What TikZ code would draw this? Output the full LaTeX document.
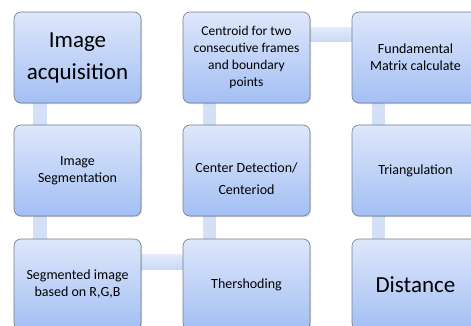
\documentclass[tikz,border=0pt]{standalone}
\usepackage{fontspec}
\setmainfont{Carlito}
\usepackage{tikz}
\usetikzlibrary{shadows}
\pgfdeclarelayer{nodelayer}
\pgfdeclarelayer{edgelayer}
\pgfsetlayers{edgelayer,nodelayer,main}
\definecolor{boxtop}{HTML}{DEE7FB}
\definecolor{boxbot}{HTML}{A3BFF3}
\definecolor{boxline}{HTML}{747D8C}
\definecolor{bartop}{HTML}{E3EBFB}
\definecolor{barbot}{HTML}{C9D8F6}
\tikzset{stage/.style={draw=boxline, line width=0.6pt, rounded corners=7pt,
top color=boxtop, bottom color=boxbot, minimum width=127pt, minimum height=91pt,
inner sep=0pt, align=center, text=black, font=\fontsize{14}{17}\selectfont,
drop shadow={shadow xshift=1pt, shadow yshift=-1.2pt, opacity=0.3}}}
\tikzset{bigstage/.style={stage, font=\fontsize{23}{32}\selectfont}}
\tikzset{vbar/.style={fill=barbot!60!bartop}}
\tikzset{hbar/.style={top color=bartop, bottom color=barbot}}

\begin{document}
\begin{tikzpicture}[x=1pt, y=1pt]
	\useasboundingbox (0,0) rectangle (471,-326);
	\clip (0,0) rectangle (471,-326);
	\begin{pgfonlayer}{nodelayer}
		\node [style=bigstage] (0) at (77.5, -57.5) {Image\\acquisition};
		\node [style=stage] (1) at (77.5, -170.5) {Image\\Segmentation};
		\node [style=stage] (2) at (77.5, -284.5) {Segmented image\\based on R,G,B};
		\node [style=stage] (3) at (246.5, -284.5) {Thershoding};
		\node [style=stage, font=\fontsize{14}{22}\selectfont] (4) at (246.5, -170.5) {\rule{0pt}{26pt}Center Detection/\\Centeriod};
		\node [style=stage, font=\fontsize{13.5}{17}\selectfont] (5) at (246.5, -57.5) {Centroid for two\\consecutive frames\\and boundary\\points};
		\node [style=stage] (6) at (415.5, -57.5) {Fundamental\\Matrix calculate};
		\node [style=stage] (7) at (415.5, -170.5) {Triangulation};
		\node [style=bigstage] (8) at (415.5, -284.5) {Distance};
	\end{pgfonlayer}
	\begin{pgfonlayer}{edgelayer}
		\fill [style=vbar] ([xshift=19pt]0.south west) rectangle ([xshift=33pt]1.north west);
		\fill [style=vbar] ([xshift=19pt]1.south west) rectangle ([xshift=33pt]2.north west);
		\path [style=hbar] ([yshift=-16pt]2.north east) rectangle ([yshift=-31pt]3.north west);
		\fill [style=vbar] ([xshift=20pt]3.north west) rectangle ([xshift=33pt]4.south west);
		\fill [style=vbar] ([xshift=20pt]4.north west) rectangle ([xshift=33pt]5.south west);
		\path [style=hbar] ([yshift=-16pt]5.north east) rectangle ([yshift=-30pt]6.north west);
		\fill [style=vbar] ([xshift=20pt]6.south west) rectangle ([xshift=33pt]7.north west);
		\fill [style=vbar] ([xshift=20pt]7.south west) rectangle ([xshift=33pt]8.north west);
	\end{pgfonlayer}
\end{tikzpicture}
\end{document}
